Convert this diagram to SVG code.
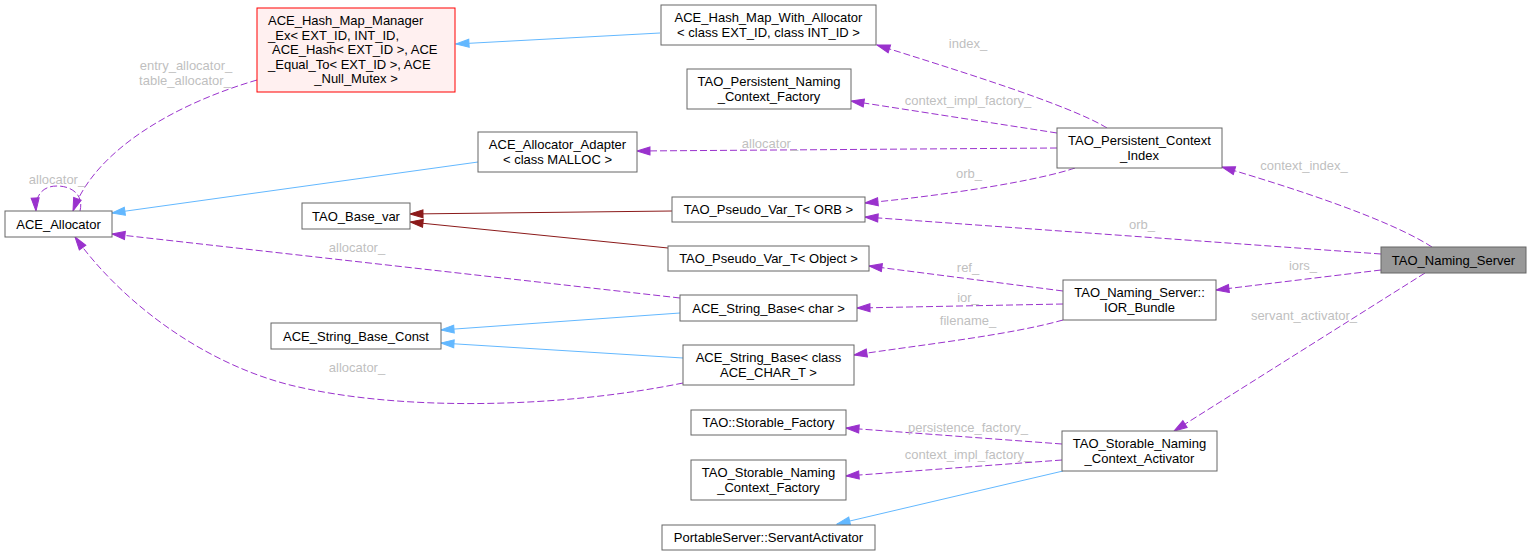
<svg xmlns="http://www.w3.org/2000/svg" width="1531" height="555" viewBox="0 0 1531 555">
<style>
  .box { fill: #ffffff; stroke: #666666; stroke-width: 1; }
  .nt { font-family: "Liberation Sans", Arial, sans-serif; font-size: 13px; fill: #000000; text-anchor: middle; }
  .lbl { font-family: "Liberation Sans", Arial, sans-serif; font-size: 13px; fill: #bfbfbf; text-anchor: middle; }
  .use { fill: none; stroke: #9a32cd; stroke-width: 1; stroke-dasharray: 7,3; marker-end: url(#ap); }
  .inh { fill: none; stroke: #63b8ff; stroke-width: 1; marker-end: url(#ab); }
  .tpl { fill: none; stroke: #8b1a1a; stroke-width: 1; marker-end: url(#ar); }
</style>
<defs>
  <marker id="ap" markerUnits="userSpaceOnUse" markerWidth="15" markerHeight="11" refX="13" refY="4" orient="auto" viewBox="-1 -1 15 10">
    <path d="M0,0 L13,4 L0,8 Z" fill="#9a32cd" stroke="#9a32cd" stroke-width="1" stroke-dasharray="none"/>
  </marker>
  <marker id="ab" markerUnits="userSpaceOnUse" markerWidth="15" markerHeight="11" refX="13" refY="4" orient="auto" viewBox="-1 -1 15 10">
    <path d="M0,0 L13,4 L0,8 Z" fill="#63b8ff" stroke="#63b8ff" stroke-width="1"/>
  </marker>
  <marker id="ar" markerUnits="userSpaceOnUse" markerWidth="15" markerHeight="11" refX="13" refY="4" orient="auto" viewBox="-1 -1 15 10">
    <path d="M0,0 L13,4 L0,8 Z" fill="#8b1a1a" stroke="#8b1a1a" stroke-width="1"/>
  </marker>
</defs>
<rect width="1531" height="555" fill="#ffffff"/>

<g id="edges">
  <path class="use" d="M80,211 C84,195 72,186 57,186 C42,186 35,196 36,211"/>
  <path class="use" d="M257,80 C175,104 95,150 73,211"/>
  <path class="inh" d="M660,33 L456,44"/>
  <path class="inh" d="M478,162 L112,213"/>
  <path class="tpl" d="M672,211 L410,214"/>
  <path class="tpl" d="M668,248 L410,222"/>
  <path class="inh" d="M680,313 L441,330"/>
  <path class="inh" d="M683,358 L441,343"/>
  <path class="use" d="M680,298 L112,234"/>
  <path class="use" d="M683,383 C560,408 400,412 290,385 C200,362 120,300 75,237"/>
  <path class="use" d="M1107,128 C1070,105 950,68 877,45"/>
  <path class="use" d="M1057,133 L851,101"/>
  <path class="use" d="M1057,148 L637,151"/>
  <path class="use" d="M1075,168 C1040,180 950,195 865,203"/>
  <path class="use" d="M1432,247 C1390,220 1300,190 1222,167"/>
  <path class="use" d="M1381,254 L865,217"/>
  <path class="use" d="M1381,270 L1216,290"/>
  <path class="use" d="M1425,273 L1174,431"/>
  <path class="use" d="M1063,291 L869,266"/>
  <path class="use" d="M1063,304 L857,308"/>
  <path class="use" d="M1063,320 C1010,335 920,345 854,355"/>
  <path class="use" d="M1062,444 L846,428"/>
  <path class="use" d="M1062,460 L846,476"/>
  <path class="inh" d="M1063,471 L837,524"/>

  <text class="lbl" x="57" y="183.5">allocator_</text>
  <text class="lbl" x="186" y="69.5">entry_allocator_</text>
  <text class="lbl" x="185" y="84.5">table_allocator_</text>
  <text class="lbl" x="968" y="47.5">index_</text>
  <text class="lbl" x="968" y="104.5">context_impl_factory_</text>
  <text class="lbl" x="770" y="147.5">allocator_</text>
  <text class="lbl" x="969" y="177.5">orb_</text>
  <text class="lbl" x="1304" y="169.5">context_index_</text>
  <text class="lbl" x="1142" y="228.5">orb_</text>
  <text class="lbl" x="357" y="251.5">allocator_</text>
  <text class="lbl" x="1303" y="269.5">iors_</text>
  <text class="lbl" x="968" y="271.5">ref_</text>
  <text class="lbl" x="968" y="301.5">ior_</text>
  <text class="lbl" x="1304" y="319.5">servant_activator_</text>
  <text class="lbl" x="968" y="324.5">filename_</text>
  <text class="lbl" x="357" y="371.5">allocator_</text>
  <text class="lbl" x="968" y="431.5">persistence_factory_</text>
  <text class="lbl" x="968" y="458.5">context_impl_factory_</text>
</g>

<g id="n_hash_map_manager">
  <rect x="257" y="8" width="198" height="84" fill="#fff0f0" stroke="#ff0000" stroke-width="1"/>
  <text class="nt" style="text-anchor:start" x="268" y="25">ACE_Hash_Map_Manager</text>
  <text class="nt" style="text-anchor:start" x="268" y="39.5">_Ex&lt; EXT_ID, INT_ID,</text>
  <text class="nt" style="text-anchor:start" x="272" y="54">ACE_Hash&lt; EXT_ID &gt;, ACE</text>
  <text class="nt" style="text-anchor:start" x="268" y="68.5">_Equal_To&lt; EXT_ID &gt;, ACE</text>
  <text class="nt" x="356" y="83">_Null_Mutex &gt;</text>
</g>
<g id="n_hash_map_with_allocator">
  <rect class="box" x="661" y="5" width="215" height="40"/>
  <text class="nt" x="768.5" y="21.5">ACE_Hash_Map_With_Allocator</text>
  <text class="nt" x="768.5" y="36.5">&lt; class EXT_ID, class INT_ID &gt;</text>
</g>
<g id="n_persistent_naming_context_factory">
  <rect class="box" x="687" y="69" width="164" height="40"/>
  <text class="nt" x="769" y="85.5">TAO_Persistent_Naming</text>
  <text class="nt" x="769" y="100.5">_Context_Factory</text>
</g>
<g id="n_allocator_adapter">
  <rect class="box" x="478" y="132" width="159" height="40"/>
  <text class="nt" x="557.5" y="148.5">ACE_Allocator_Adapter</text>
  <text class="nt" x="557.5" y="163.5">&lt; class MALLOC &gt;</text>
</g>
<g id="n_persistent_context_index">
  <rect class="box" x="1057" y="128" width="165" height="40"/>
  <text class="nt" x="1139.5" y="144.5">TAO_Persistent_Context</text>
  <text class="nt" x="1139.5" y="159.5">_Index</text>
</g>
<g id="n_ace_allocator">
  <rect class="box" x="5" y="211" width="107" height="26"/>
  <text class="nt" x="58.5" y="228.5">ACE_Allocator</text>
</g>
<g id="n_base_var">
  <rect class="box" x="302" y="203" width="108" height="26"/>
  <text class="nt" x="356" y="220.5">TAO_Base_var</text>
</g>
<g id="n_pseudo_orb">
  <rect class="box" x="672" y="197" width="193" height="25"/>
  <text class="nt" x="768.5" y="214">TAO_Pseudo_Var_T&lt; ORB &gt;</text>
</g>
<g id="n_pseudo_object">
  <rect class="box" x="668" y="246" width="201" height="25"/>
  <text class="nt" x="768.5" y="263">TAO_Pseudo_Var_T&lt; Object &gt;</text>
</g>
<g id="n_naming_server">
  <rect x="1381" y="247" width="145" height="26" fill="#999999" stroke="#666666" stroke-width="1"/>
  <text class="nt" x="1453.5" y="264.5">TAO_Naming_Server</text>
</g>
<g id="n_string_base_char">
  <rect class="box" x="680" y="295" width="177" height="26"/>
  <text class="nt" x="768.5" y="312.5">ACE_String_Base&lt; char &gt;</text>
</g>
<g id="n_string_base_const">
  <rect class="box" x="271" y="323" width="170" height="26"/>
  <text class="nt" x="356" y="340.5">ACE_String_Base_Const</text>
</g>
<g id="n_ior_bundle">
  <rect class="box" x="1063" y="280" width="153" height="40"/>
  <text class="nt" x="1139.5" y="296.5">TAO_Naming_Server::</text>
  <text class="nt" x="1139.5" y="311.5">IOR_Bundle</text>
</g>
<g id="n_string_base_class">
  <rect class="box" x="683" y="345" width="171" height="40"/>
  <text class="nt" x="768.5" y="361.5">ACE_String_Base&lt; class</text>
  <text class="nt" x="768.5" y="376.5">ACE_CHAR_T &gt;</text>
</g>
<g id="n_storable_factory">
  <rect class="box" x="691" y="410" width="155" height="25"/>
  <text class="nt" x="768.5" y="427">TAO::Storable_Factory</text>
</g>
<g id="n_storable_activator">
  <rect class="box" x="1062" y="431" width="155" height="40"/>
  <text class="nt" x="1139.5" y="447.5">TAO_Storable_Naming</text>
  <text class="nt" x="1139.5" y="462.5">_Context_Activator</text>
</g>
<g id="n_storable_naming_context_factory">
  <rect class="box" x="691" y="460" width="155" height="40"/>
  <text class="nt" x="768.5" y="476.5">TAO_Storable_Naming</text>
  <text class="nt" x="768.5" y="491.5">_Context_Factory</text>
</g>
<g id="n_servant_activator">
  <rect class="box" x="662" y="525" width="213" height="25"/>
  <text class="nt" x="768.5" y="542">PortableServer::ServantActivator</text>
</g>
</svg>
